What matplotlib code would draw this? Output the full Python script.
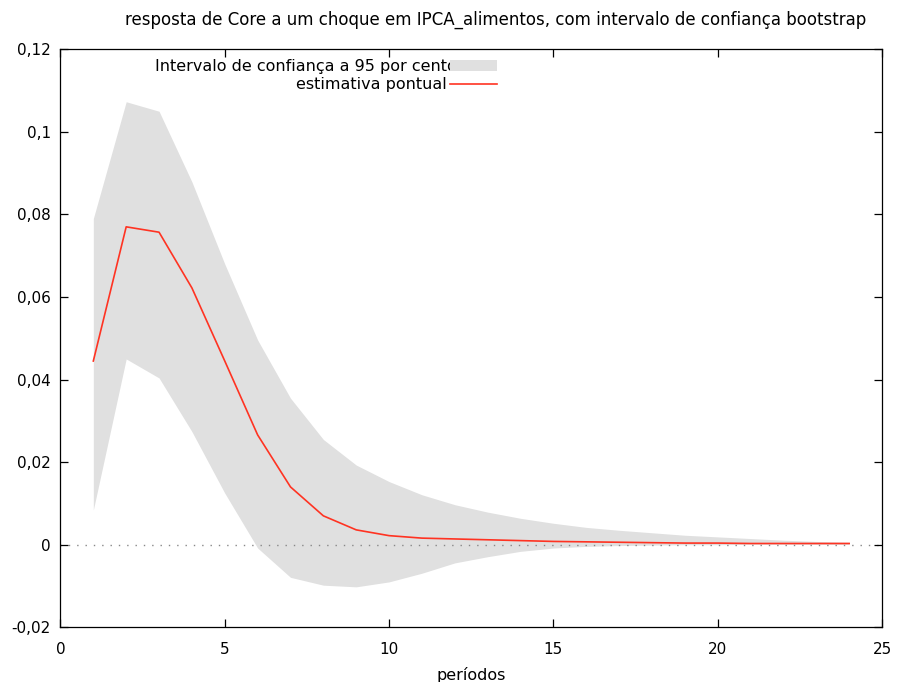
import numpy as np
import matplotlib.pyplot as plt
from matplotlib.patches import Rectangle
from matplotlib.lines import Line2D
from matplotlib.ticker import FuncFormatter

# periods of the impulse response
periodos = list(range(1, 25))

# point estimate of the response of Core to the IPCA_alimentos shock
estimativa = [0.0445, 0.0770, 0.0757, 0.0622, 0.0445, 0.0266, 0.0140, 0.0070,
              0.0036, 0.0022, 0.0016, 0.0014, 0.0012, 0.0010, 0.0008, 0.0007,
              0.0006, 0.0005, 0.0004, 0.0004, 0.0003, 0.0003, 0.0003, 0.0003]

# bootstrap 95% interval
limite_sup = [0.0790, 0.1073, 0.1050, 0.0879, 0.0680, 0.0496, 0.0355, 0.0255,
              0.0193, 0.0153, 0.0121, 0.0097, 0.0079, 0.0064, 0.0052, 0.0042,
              0.0035, 0.0029, 0.0023, 0.0019, 0.0015, 0.0011, 0.0008, 0.0006]
limite_inf = [0.0084, 0.0450, 0.0404, 0.0274, 0.0125, -0.0008, -0.0079, -0.0098,
              -0.0102, -0.0090, -0.0069, -0.0044, -0.0029, -0.0016, -0.0008, -0.0004,
              -0.0002, -0.0001, 0.0000, 0.0000, 0.0001, 0.0001, 0.0001, 0.0001]

titulo = 'resposta de Core a um choque em IPCA_alimentos, com intervalo de confiança bootstrap'
rotulos = ['Intervalo de confiança a 95 por cento', 'estimativa pontual']

cinza = '#e0e0e0'
vermelho = '#ff3322'

plt.rcParams['font.family'] = 'DejaVu Sans'

W, H = 897, 682
fig = plt.figure(figsize=(W / 100, H / 100), dpi=100)
ax = fig.add_axes([0.0674, 0.0802, 0.9159, 0.8475])

ax.fill_between(periodos, limite_inf, limite_sup, color=cinza, lw=0, zorder=1)
ax.axhline(0, color='#888888', lw=1.0, ls=(0, (1, 5)), zorder=1.5)
ax.plot(periodos, estimativa, color=vermelho, lw=1.2, zorder=2)

ax.set_xlim(0, 25)
ax.set_ylim(-0.02, 0.12)
ax.set_xticks(np.arange(0, 26, 5))
ax.set_yticks(np.arange(-0.02, 0.121, 0.02))
ax.yaxis.set_major_formatter(FuncFormatter(lambda v, p: ('%g' % round(v, 3)).replace('.', ',')))
ax.tick_params(direction='in', length=6, width=0.9, top=True, right=True, labelsize=11)
ax.tick_params(axis='y', pad=7)
ax.tick_params(axis='x', pad=10.5)
for s in ax.spines.values():
    s.set_linewidth(0.9)

ax.set_xlabel('períodos', fontsize=11.5, labelpad=7)
fig.text(866 / W, 1 - 20 / H, titulo, ha='right', va='center', fontsize=12)

# key in gnuplot style: right-justified labels followed by the samples
fig.text(457 / W, 1 - 67 / H, rotulos[0], ha='right', va='center', fontsize=11.5, zorder=3)
fig.text(447 / W, 1 - 84 / H, rotulos[1], ha='right', va='center', fontsize=11.5, zorder=3)
fig.add_artist(Rectangle((450 / W, 1 - 71 / H), 47 / W, 11 / H, transform=fig.transFigure,
                         facecolor=cinza, edgecolor='none', zorder=4))
fig.add_artist(Line2D([450 / W, 497 / W], [1 - 84 / H, 1 - 84 / H], transform=fig.transFigure,
                      color=vermelho, lw=1.2, zorder=4))

fig.savefig('out.png', dpi=100)
